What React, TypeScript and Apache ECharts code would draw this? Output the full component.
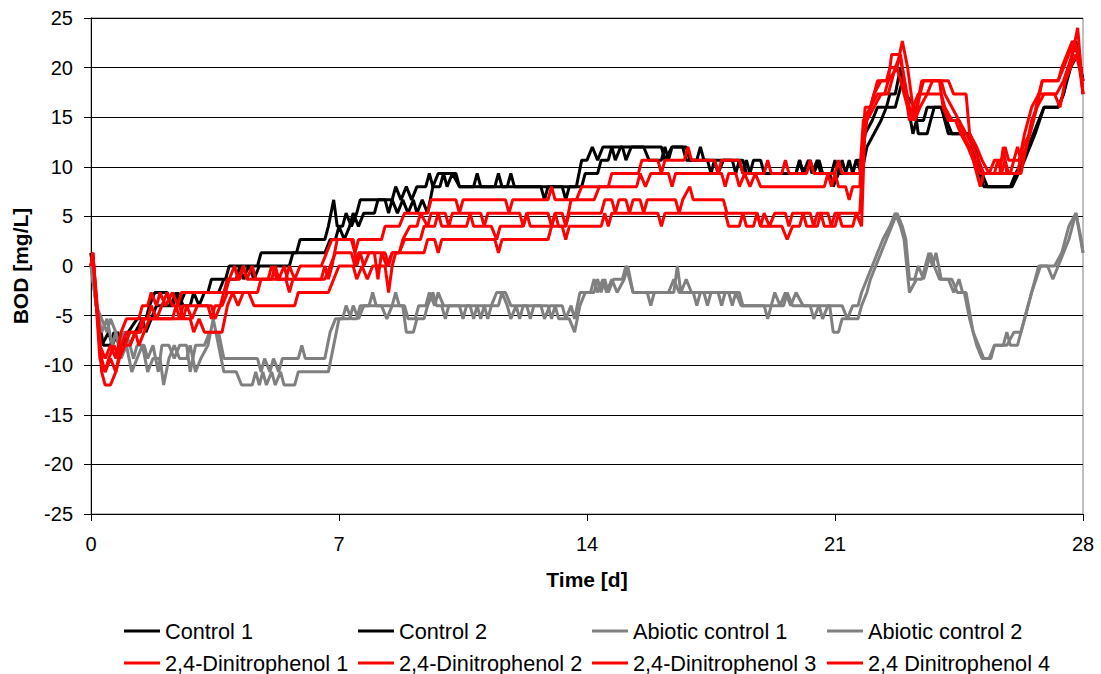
import React, { useEffect, useRef } from "react";
import * as echarts from "echarts";

// BOD (mg/L) readings over time (days), stored as [day, value] points
const control1: number[][] = [
  [0, 1.33], [0.15, -4], [0.3, -8], [0.5, -6.67], [0.6, -8], [0.75, -6.67], [0.9, -8], [1.05, -6.67], [1.3, -5.33],
  [1.55, -5.33], [1.65, -4], [1.8, -2.67], [2.15, -2.67], [2.25, -4], [2.4, -2.67], [2.5, -4], [2.65, -2.67], [3.3, -2.67],
  [3.4, -1.33], [3.8, -1.33], [3.9, 0], [4.7, 0], [4.8, 1.33], [5.8, 1.33], [5.9, 2.67], [6.6, 2.67], [6.7, 4], [6.85, 6.67],
  [6.95, 4], [7.1, 4], [7.2, 5.33], [7.35, 4], [7.5, 5.33], [7.6, 6.67], [8.5, 6.67], [8.6, 8], [8.75, 6.67], [8.9, 8],
  [9.05, 6.67], [9.2, 8], [9.45, 8], [9.55, 9.33], [9.65, 8], [9.8, 9.33], [10.3, 9.33], [10.4, 8], [10.8, 8], [10.9, 9.33],
  [11.0, 8], [11.75, 8], [11.85, 9.33], [11.95, 8], [13.7, 8], [13.85, 10.67], [14.0, 10.67], [14.15, 12], [14.3, 10.67],
  [14.45, 12], [15.0, 12], [15.1, 10.67], [15.25, 12], [16.1, 12], [16.2, 10.67], [16.4, 12], [16.8, 12], [16.9, 10.67],
  [17.1, 10.67], [17.2, 12], [17.3, 10.67], [18.1, 10.67], [18.2, 9.33], [18.3, 10.67], [18.4, 9.33], [18.5, 10.67],
  [18.6, 9.33], [18.7, 10.67], [18.9, 10.67], [19.0, 9.33], [19.9, 9.33], [20.0, 10.67], [20.1, 9.33], [20.25, 10.67],
  [20.35, 9.33], [20.5, 10.67], [20.6, 9.33], [20.9, 9.33], [21.0, 10.67], [21.1, 9.33], [21.3, 9.33], [21.4, 10.67],
  [21.5, 9.33], [21.6, 10.67], [21.75, 10.67], [21.85, 13.33], [22.05, 14.67], [22.2, 16], [22.45, 16], [22.55, 17.33],
  [22.7, 17.33], [22.85, 20], [23.0, 17.33], [23.2, 13.33], [23.3, 14.67], [23.5, 14.67], [23.6, 16], [24.0, 16],
  [24.2, 13.33], [24.8, 13.33], [24.95, 10.67], [25.2, 8], [26.0, 8], [26.35, 10.67], [26.65, 13.33], [26.9, 16],
  [27.3, 16], [27.45, 17.33], [27.6, 20], [27.8, 22.67], [28, 18.67],
];

const control2: number[][] = [
  [0, 1.33], [0.15, -4], [0.35, -8], [0.55, -8], [0.65, -6.67], [0.8, -8], [0.95, -6.67], [1.1, -8], [1.25, -6.67],
  [1.45, -5.33], [1.55, -6.67], [1.7, -5.33], [1.85, -4], [2.3, -4], [2.45, -2.67], [2.6, -4], [2.8, -4], [2.9, -2.67],
  [3.05, -4], [3.2, -2.67], [3.6, -2.67], [3.75, -1.33], [4.1, -1.33], [4.2, 0], [4.3, -1.33], [4.45, 0], [4.6, -1.33],
  [4.75, 0], [5.6, 0], [5.7, 1.33], [6.6, 1.33], [6.75, 2.67], [6.9, 2.67], [7.0, 4], [7.15, 2.67], [7.3, 4], [7.4, 5.33],
  [7.55, 4], [7.7, 5.33], [8.0, 5.33], [8.1, 6.67], [8.3, 6.67], [8.4, 5.33], [8.5, 6.67], [8.65, 5.33], [8.8, 6.67],
  [8.95, 5.33], [9.1, 6.67], [9.2, 5.33], [9.35, 6.67], [9.5, 5.33], [9.65, 8], [9.85, 8], [9.95, 9.33], [10.05, 8],
  [10.2, 9.33], [10.4, 8], [11.4, 8], [11.5, 9.33], [11.6, 8], [12.7, 8], [12.8, 6.67], [12.9, 8], [13.3, 8], [13.4, 6.67],
  [13.5, 8], [13.85, 8], [13.95, 9.33], [14.3, 9.33], [14.4, 10.67], [14.6, 10.67], [14.7, 12], [14.8, 10.67], [14.95, 12],
  [15.6, 12], [15.75, 10.67], [16.1, 10.67], [16.2, 12], [16.3, 10.67], [16.4, 12], [16.7, 12], [16.8, 10.67],
  [17.4, 10.67], [17.5, 9.33], [17.6, 10.67], [17.7, 9.33], [17.85, 10.67], [18.4, 10.67], [18.5, 9.33], [19.9, 9.33],
  [20.0, 10.67], [20.1, 9.33], [20.3, 10.67], [20.4, 9.33], [20.55, 10.67], [20.65, 9.33], [20.85, 9.33], [20.95, 8],
  [21.1, 9.33], [21.2, 10.67], [21.3, 9.33], [21.5, 9.33], [21.6, 10.67], [21.75, 9.33], [21.9, 12], [22.1, 13.33],
  [22.3, 14.67], [22.45, 16], [22.7, 16], [22.9, 18.67], [23.0, 17.33], [23.25, 16], [23.35, 13.33], [23.6, 13.33],
  [23.7, 14.67], [23.8, 16], [24.0, 16], [24.15, 14.67], [24.3, 13.33], [24.8, 13.33], [24.95, 12], [25.15, 9.33],
  [25.3, 8], [25.95, 8], [26.1, 9.33], [26.3, 10.67], [26.45, 12], [26.6, 13.33], [26.75, 14.67], [26.9, 16], [27.3, 16],
  [27.45, 17.33], [27.65, 20], [27.85, 21.33], [28, 18.67],
];

const abiotic1: number[][] = [
  [0, 0], [0.15, -4], [0.3, -5.33], [0.45, -6.67], [0.55, -5.33], [0.7, -6.67], [0.8, -8], [0.95, -6.67], [1.1, -8],
  [1.2, -9.33], [1.3, -8], [1.5, -8], [1.6, -9.33], [1.75, -8], [1.9, -10.67], [2.0, -8], [2.2, -8], [2.35, -9.33],
  [2.5, -8], [2.7, -8], [2.8, -10.67], [2.95, -8], [3.2, -8], [3.35, -6.67], [3.6, -6.67], [3.75, -9.33], [4.7, -9.33],
  [4.8, -10.67], [4.9, -9.33], [5.05, -10.67], [5.15, -9.33], [5.3, -10.67], [5.4, -9.33], [5.85, -9.33], [5.95, -8],
  [6.05, -9.33], [6.6, -9.33], [6.75, -6.67], [6.9, -5.33], [7.1, -5.33], [7.2, -4], [7.35, -5.33], [7.5, -5.33],
  [7.6, -4], [7.85, -4], [7.95, -2.67], [8.05, -4], [8.5, -4], [8.6, -2.67], [8.7, -4], [8.85, -4], [8.95, -5.33],
  [9.15, -5.33], [9.25, -4], [9.45, -4], [9.55, -2.67], [9.7, -4], [9.8, -2.67], [9.95, -4], [10.4, -4], [10.5, -5.33],
  [10.6, -4], [11.1, -4], [11.2, -5.33], [11.3, -4], [11.45, -2.67], [11.7, -2.67], [11.85, -4], [12.3, -4], [12.4, -5.33],
  [12.5, -4], [12.7, -4], [12.8, -5.33], [12.95, -4], [13.3, -4], [13.4, -5.33], [13.55, -4], [13.65, -5.33], [13.8, -2.67],
  [14.2, -2.67], [14.3, -1.33], [14.4, -2.67], [14.5, -1.33], [14.6, -2.67], [14.75, -1.33], [15.0, -1.33], [15.1, 0],
  [15.2, -1.33], [15.3, -2.67], [16.45, -2.67], [16.55, 0], [16.65, -2.67], [16.8, -1.33], [16.95, -2.67], [17.3, -2.67],
  [17.4, -4], [17.5, -2.67], [17.7, -2.67], [17.8, -4], [17.9, -2.67], [18.3, -2.67], [18.4, -4], [19.2, -4], [19.3, -2.67],
  [19.45, -4], [19.6, -2.67], [19.75, -4], [19.9, -2.67], [20.1, -4], [20.55, -4], [20.65, -5.33], [20.8, -4], [21.2, -4],
  [21.35, -5.33], [21.5, -4], [21.65, -4], [21.75, -2.67], [21.9, -1.33], [22.05, 0], [22.2, 1.33], [22.35, 2.67],
  [22.55, 4], [22.7, 5.33], [22.85, 4], [22.95, 2.67], [23.1, -2.67], [23.3, -1.33], [23.45, -1.33], [23.55, 0],
  [23.65, 1.33], [23.75, 0], [23.85, 1.33], [24.0, -1.33], [24.3, -1.33], [24.45, -2.67], [24.65, -2.67], [24.8, -5.33],
  [25.0, -8], [25.15, -9.33], [25.35, -9.33], [25.5, -8], [25.75, -8], [25.85, -6.67], [25.95, -8], [26.15, -8],
  [26.35, -5.33], [26.55, -2.67], [26.8, 0], [27.2, 0], [27.4, 1.33], [27.6, 4], [27.8, 5.33], [28, 1.33],
];

const abiotic2: number[][] = [
  [0, 0], [0.15, -4], [0.3, -6.67], [0.45, -5.33], [0.6, -8], [0.7, -6.67], [0.85, -9.33], [1.0, -8], [1.15, -10.67],
  [1.3, -9.33], [1.45, -8], [1.6, -10.67], [1.75, -9.33], [1.95, -9.33], [2.05, -12], [2.2, -9.33], [2.35, -8],
  [2.5, -9.33], [2.7, -9.33], [2.8, -8], [2.95, -10.67], [3.1, -9.33], [3.3, -8], [3.45, -5.33], [3.6, -8], [3.75, -10.67],
  [4.1, -10.67], [4.25, -12], [4.55, -12], [4.65, -10.67], [4.75, -12], [4.85, -10.67], [4.95, -12], [5.1, -10.67],
  [5.2, -12], [5.35, -10.67], [5.45, -12], [5.75, -12], [5.85, -10.67], [6.7, -10.67], [6.85, -8], [7.0, -5.33],
  [7.3, -5.33], [7.4, -4], [7.55, -5.33], [7.7, -4], [8.2, -4], [8.35, -5.33], [8.5, -4], [8.8, -4], [8.9, -6.67],
  [9.1, -6.67], [9.2, -5.33], [9.4, -5.33], [9.5, -4], [9.65, -2.67], [9.75, -4], [9.9, -4], [10.0, -5.33], [10.1, -4],
  [10.7, -4], [10.8, -5.33], [10.9, -4], [11.0, -5.33], [11.1, -4], [11.5, -4], [11.6, -2.67], [11.75, -4], [11.85, -5.33],
  [12.0, -4], [12.1, -5.33], [12.2, -4], [12.9, -4], [13.0, -5.33], [13.1, -4], [13.2, -5.33], [13.5, -5.33],
  [13.65, -6.67], [13.8, -4], [13.95, -2.67], [14.1, -2.67], [14.2, -1.33], [14.3, -2.67], [14.45, -1.33], [14.55, -2.67],
  [14.7, -1.33], [14.85, -2.67], [15.05, -1.33], [15.15, 0], [15.3, -2.67], [15.7, -2.67], [15.8, -4], [15.9, -2.67],
  [16.3, -2.67], [16.45, -1.33], [16.6, -2.67], [17.0, -2.67], [17.1, -4], [17.2, -2.67], [18.0, -2.67], [18.1, -4],
  [18.2, -2.67], [18.35, -4], [19.0, -4], [19.1, -5.33], [19.2, -4], [19.55, -4], [19.65, -2.67], [19.8, -4], [20.3, -4],
  [20.4, -5.33], [20.55, -4], [20.85, -4], [20.95, -6.67], [21.1, -6.67], [21.2, -5.33], [21.65, -5.33], [21.75, -4],
  [21.9, -2.67], [22.0, -1.33], [22.15, 0], [22.3, 1.33], [22.45, 2.67], [22.6, 4], [22.75, 5.33], [22.9, 4], [23.0, 2.67],
  [23.1, -1.33], [23.25, -1.33], [23.35, 0], [23.5, -1.33], [23.6, 0], [23.7, 1.33], [23.8, 0], [23.95, -1.33],
  [24.2, -1.33], [24.35, -2.67], [24.5, -1.33], [24.6, -2.67], [24.7, -2.67], [24.9, -6.67], [25.05, -8], [25.2, -9.33],
  [25.4, -9.33], [25.5, -8], [25.85, -8], [26.05, -6.67], [26.25, -6.67], [26.45, -4], [26.65, -1.33], [26.75, 0],
  [27.0, 0], [27.15, -1.33], [27.3, 0], [27.45, 1.33], [27.6, 2.67], [27.8, 5.33], [27.95, 2.67], [28, 1.33],
];

const dinitrophenol1: number[][] = [
  [0, 0], [0.05, 1.33], [0.25, -8], [0.4, -9.33], [0.55, -8], [0.7, -9.33], [0.85, -6.67], [1.0, -5.33], [1.35, -5.33],
  [1.45, -4], [1.6, -4], [1.7, -2.67], [1.85, -4], [1.95, -2.67], [2.1, -4], [2.3, -2.67], [2.45, -4], [2.55, -2.67],
  [3.8, -2.67], [3.9, -1.33], [4.05, 0], [4.15, -1.33], [4.3, 0], [4.4, -1.33], [5.5, -1.33], [5.6, 0], [5.75, -1.33],
  [5.9, 0], [6.5, 0], [6.65, 1.33], [6.8, 2.67], [7.35, 2.67], [7.45, 1.33], [7.55, 2.67], [8.2, 2.67], [8.3, 4], [8.7, 4],
  [8.85, 5.33], [9.5, 5.33], [9.6, 6.67], [10.3, 6.67], [10.4, 5.33], [10.5, 6.67], [11.7, 6.67], [11.8, 5.33],
  [11.9, 6.67], [12.9, 6.67], [13.0, 8], [13.1, 6.67], [13.7, 6.67], [13.85, 8], [14.6, 8], [14.7, 9.33], [15.45, 9.33],
  [15.55, 10.67], [16.0, 10.67], [16.1, 9.33], [16.2, 10.67], [16.75, 10.67], [16.85, 12], [16.95, 10.67], [17.6, 10.67],
  [17.7, 9.33], [17.8, 10.67], [18.3, 10.67], [18.4, 9.33], [19.0, 9.33], [19.1, 10.67], [19.2, 9.33], [19.5, 9.33],
  [19.6, 10.67], [19.7, 9.33], [20.2, 9.33], [20.3, 10.67], [20.4, 9.33], [21.0, 9.33], [21.1, 10.67], [21.2, 9.33],
  [21.7, 9.33], [21.8, 14.67], [22.0, 16], [22.2, 18.67], [22.45, 18.67], [22.55, 20], [22.75, 20], [22.9, 22.67],
  [23.05, 20], [23.25, 14.67], [23.4, 16], [23.6, 17.33], [24.0, 17.33], [24.1, 16], [24.3, 14.67], [24.5, 14.67],
  [24.6, 13.33], [24.8, 12], [24.95, 10.67], [25.1, 9.33], [25.7, 9.33], [25.8, 10.67], [25.9, 9.33], [26.15, 9.33],
  [26.3, 12], [26.5, 13.33], [26.7, 16], [26.9, 17.33], [27.25, 17.33], [27.45, 18.67], [27.7, 21.33], [27.85, 24],
  [28, 17.33],
];

const dinitrophenol2: number[][] = [
  [0, 0], [0.05, 1.33], [0.3, -10.67], [0.4, -12], [0.55, -12], [0.7, -10.67], [0.85, -8], [1.0, -6.67], [1.4, -6.67],
  [1.5, -5.33], [2.3, -5.33], [2.4, -4], [2.5, -5.33], [2.6, -4], [3.3, -4], [3.4, -5.33], [3.5, -4], [3.7, -4],
  [3.85, -2.67], [4.7, -2.67], [4.8, -1.33], [5.1, -1.33], [5.2, 0], [5.3, -1.33], [5.45, 0], [5.55, -1.33], [6.6, -1.33],
  [6.75, 0], [6.9, 1.33], [7.35, 1.33], [7.45, 0], [7.55, 1.33], [8.3, 1.33], [8.4, 0], [8.5, 1.33], [8.7, 1.33],
  [8.8, 2.67], [9.0, 4], [9.2, 4], [9.3, 5.33], [9.5, 4], [9.6, 5.33], [10.0, 5.33], [10.1, 4], [10.2, 5.33], [11.0, 5.33],
  [11.1, 4], [11.2, 5.33], [12.1, 5.33], [12.2, 4], [12.3, 5.33], [12.9, 5.33], [13.0, 4], [13.1, 5.33], [13.3, 5.33],
  [13.4, 4], [13.55, 6.67], [14.2, 6.67], [14.35, 8], [15.4, 8], [15.5, 9.33], [15.65, 8], [15.8, 9.33], [16.3, 9.33],
  [16.4, 8], [16.5, 9.33], [17.8, 9.33], [17.9, 8], [18.0, 9.33], [18.2, 9.33], [18.3, 8], [18.45, 9.33], [18.6, 8],
  [18.75, 9.33], [18.9, 8], [20.7, 8], [20.8, 9.33], [20.9, 8], [21.0, 9.33], [21.1, 8], [21.3, 8], [21.4, 6.67],
  [21.5, 8], [21.7, 8], [21.85, 16], [22.0, 16], [22.1, 17.33], [22.3, 18.67], [22.5, 18.67], [22.6, 21.33], [22.8, 21.33],
  [22.9, 20], [23.1, 16], [23.25, 14.67], [23.4, 17.33], [23.5, 18.67], [24.0, 18.67], [24.1, 17.33], [24.3, 16],
  [24.5, 14.67], [24.7, 13.33], [24.9, 12], [25.05, 10.67], [25.2, 9.33], [25.65, 9.33], [25.75, 12], [25.85, 9.33],
  [26.25, 9.33], [26.4, 12], [26.6, 14.67], [26.75, 17.33], [26.85, 18.67], [27.3, 18.67], [27.45, 20], [27.6, 21.33],
  [27.75, 22.67], [27.9, 21.33], [28, 17.33],
];

const dinitrophenol3: number[][] = [
  [0, 0], [0.05, 1.33], [0.25, -9.33], [0.4, -10.67], [0.5, -9.33], [0.65, -8], [0.8, -9.33], [0.95, -8], [1.1, -6.67],
  [1.35, -6.67], [1.45, -5.33], [1.6, -5.33], [1.7, -4], [1.85, -5.33], [2.0, -4], [2.15, -2.67], [2.3, -4], [2.5, -4],
  [2.6, -5.33], [2.7, -4], [2.85, -5.33], [3.0, -4], [3.4, -4], [3.5, -5.33], [3.65, -4], [3.85, -1.33], [4.2, -1.33],
  [4.3, 0], [4.4, -1.33], [4.55, 0], [4.65, -1.33], [5.0, -1.33], [5.1, 0], [5.25, -1.33], [5.5, -1.33], [5.6, -2.67],
  [5.7, -1.33], [6.5, -1.33], [6.6, 0], [6.7, -1.33], [6.8, 0], [6.95, 2.67], [7.4, 2.67], [7.5, 0], [7.6, 1.33],
  [7.7, 0], [7.85, 1.33], [8.0, 1.33], [8.1, -1.33], [8.2, 1.33], [8.35, 0], [8.5, 1.33], [8.7, 1.33], [8.85, 2.67],
  [9.3, 2.67], [9.4, 4], [9.7, 4], [9.8, 5.33], [9.9, 4], [10.6, 4], [10.7, 5.33], [10.8, 4], [11.3, 4], [11.45, 2.67],
  [11.55, 4], [12.2, 4], [12.3, 5.33], [12.4, 4], [13.0, 4], [13.1, 5.33], [13.2, 4], [13.4, 4], [13.5, 5.33], [14.4, 5.33],
  [14.5, 6.67], [14.7, 6.67], [14.8, 5.33], [14.9, 6.67], [15.1, 6.67], [15.2, 5.33], [15.3, 6.67], [15.5, 6.67],
  [15.6, 5.33], [15.7, 6.67], [16.5, 6.67], [16.6, 5.33], [16.7, 6.67], [16.9, 8], [17.0, 6.67], [17.85, 6.67],
  [17.95, 5.33], [18.8, 5.33], [18.9, 4], [19.0, 5.33], [19.15, 4], [19.3, 5.33], [19.6, 5.33], [19.7, 4], [19.8, 5.33],
  [20.3, 5.33], [20.4, 4], [20.5, 5.33], [20.8, 5.33], [20.9, 4], [21.0, 5.33], [21.7, 5.33], [21.8, 12], [21.9, 14.67],
  [22.1, 16], [22.3, 17.33], [22.5, 17.33], [22.7, 20], [22.85, 21.33], [22.95, 18.67], [23.1, 14.67], [23.2, 16],
  [23.35, 17.33], [23.6, 17.33], [23.75, 18.67], [23.95, 18.67], [24.05, 16], [24.2, 14.67], [24.4, 14.67], [24.55, 13.33],
  [24.75, 12], [24.9, 10.67], [25.1, 8], [25.2, 9.33], [25.5, 9.33], [25.6, 10.67], [25.7, 9.33], [25.95, 9.33],
  [26.05, 10.67], [26.2, 10.67], [26.35, 13.33], [26.55, 16], [26.75, 17.33], [27.2, 17.33], [27.35, 16], [27.5, 18.67],
  [27.65, 20], [27.8, 21.33], [27.9, 20], [28, 18.67],
];

const dinitrophenol4: number[][] = [
  [0, 0], [0.05, 1.33], [0.3, -9.33], [0.4, -10.67], [0.55, -9.33], [0.7, -10.67], [0.8, -9.33], [0.95, -8], [1.1, -8],
  [1.25, -6.67], [1.35, -8], [1.5, -6.67], [1.65, -5.33], [2.8, -5.33], [2.9, -6.67], [3.05, -5.33], [3.2, -6.67],
  [3.7, -6.67], [3.85, -4], [4.0, -2.67], [4.15, -4], [4.3, -2.67], [4.45, -2.67], [4.6, -4], [5.75, -4], [5.85, -2.67],
  [6.7, -2.67], [6.85, -1.33], [7.0, 0], [7.4, 0], [7.5, -1.33], [7.65, 0], [7.8, -1.33], [7.95, 0], [8.3, 0], [8.4, -2.67],
  [8.5, 0], [8.6, 1.33], [9.4, 1.33], [9.5, 2.67], [9.7, 2.67], [9.8, 1.33], [9.9, 2.67], [11.4, 2.67], [11.5, 1.33],
  [11.6, 2.67], [12.9, 2.67], [13.0, 4], [13.3, 4], [13.4, 2.67], [13.5, 4], [14.4, 4], [14.5, 5.33], [14.6, 4],
  [14.7, 5.33], [16.0, 5.33], [16.1, 4], [16.2, 5.33], [17.9, 5.33], [18.0, 4], [18.3, 4], [18.4, 5.33], [18.5, 4],
  [18.7, 4], [18.8, 5.33], [18.9, 4], [19.5, 4], [19.65, 2.67], [19.8, 4], [20.0, 4], [20.1, 5.33], [20.2, 4], [20.5, 4],
  [20.6, 5.33], [20.7, 4], [21.0, 4], [21.1, 5.33], [21.2, 4], [21.5, 4], [21.6, 5.33], [21.75, 4], [21.85, 14.67],
  [22.0, 16], [22.2, 17.33], [22.4, 17.33], [22.5, 18.67], [22.75, 20], [22.95, 17.33], [23.15, 14.67], [23.3, 16],
  [23.45, 18.67], [24.2, 18.67], [24.35, 17.33], [24.7, 17.33], [24.8, 13.33], [25.0, 12], [25.15, 10.67], [25.35, 9.33],
  [25.5, 10.67], [25.7, 10.67], [25.8, 12], [25.9, 10.67], [26.05, 10.67], [26.15, 12], [26.25, 10.67], [26.4, 12],
  [26.55, 14.67], [26.7, 16], [26.85, 18.67], [27.3, 18.67], [27.4, 20], [27.55, 21.33], [27.7, 22.67], [27.85, 21.33],
  [28, 17.33],
];

const seriesNames = [
  "Control 1",
  "Control 2",
  "Abiotic control 1",
  "Abiotic control 2",
  "2,4-Dinitrophenol 1",
  "2,4-Dinitrophenol 2",
  "2,4-Dinitrophenol 3",
  "2,4 Dinitrophenol 4",
];
const seriesData = [
  control1, control2, abiotic1, abiotic2,
  dinitrophenol1, dinitrophenol2, dinitrophenol3, dinitrophenol4,
];
const seriesColors = [
  "#000000", "#000000", "#808080", "#808080",
  "#ff0000", "#ff0000", "#ff0000", "#ff0000",
];

const FONT = '"Liberation Sans", Arial, Helvetica, sans-serif';
// legend laid out as a 4-column, 2-row table
const legendColumnsLeft = [124, 358, 592, 827];
const legendRowsTop = [620, 652];

export default function App() {
  const ref = useRef<HTMLDivElement>(null);

  useEffect(() => {
    if (!ref.current) return;
    const chart = echarts.init(ref.current, undefined, { renderer: "svg" });

    const option = {
      animation: false,
      backgroundColor: "#ffffff",
      textStyle: { fontFamily: FONT },
      grid: {
        left: 91,
        right: 18,
        top: 18,
        bottom: 160,
        show: true,
        borderColor: "#808080",
        borderWidth: 1,
      },
      legend: seriesNames.map((name, i) => ({
        orient: "horizontal",
        left: legendColumnsLeft[i % 4],
        top: legendRowsTop[Math.floor(i / 4)],
        padding: 0,
        icon: "rect",
        itemWidth: 36,
        itemHeight: 3,
        selectedMode: false,
        data: [name],
        textStyle: { fontSize: 21.7, lineHeight: 21, color: "#000", fontFamily: FONT },
      })),
      xAxis: {
        type: "value",
        min: 0,
        max: 28,
        interval: 7,
        name: "Time [d]",
        nameLocation: "middle",
        nameGap: 55,
        nameTextStyle: { fontSize: 21, fontWeight: "bold", color: "#000", fontFamily: FONT },
        axisLine: { onZero: false, lineStyle: { color: "#000", width: 1 } },
        axisTick: { show: true, length: 7, lineStyle: { color: "#000" } },
        axisLabel: { fontSize: 20, color: "#000", margin: 20, fontFamily: FONT },
        splitLine: { show: false },
      },
      yAxis: {
        type: "value",
        min: -25,
        max: 25,
        interval: 5,
        name: "BOD [mg/L]",
        nameLocation: "middle",
        nameGap: 60,
        nameTextStyle: { fontSize: 21, fontWeight: "bold", color: "#000", fontFamily: FONT },
        axisLine: { show: true, lineStyle: { color: "#000", width: 1 } },
        axisTick: { show: true, length: 7, lineStyle: { color: "#000" } },
        axisLabel: { fontSize: 20, color: "#000", margin: 18, fontFamily: FONT },
        splitLine: { show: true, lineStyle: { color: "#000", width: 1 } },
      },
      series: seriesNames.map((name, i) => ({
        name,
        type: "line",
        data: seriesData[i],
        symbol: "none",
        showSymbol: false,
        color: seriesColors[i],
        lineStyle: { width: 3, color: seriesColors[i] },
        itemStyle: { color: seriesColors[i] },
        emphasis: { disabled: true },
      })),
    };

    chart.setOption(option);
    return () => chart.dispose();
  }, []);

  return (
    <div
      ref={ref}
      style={{ position: "fixed", left: 0, top: 0, width: 1101, height: 674, background: "#fff" }}
    />
  );
}
